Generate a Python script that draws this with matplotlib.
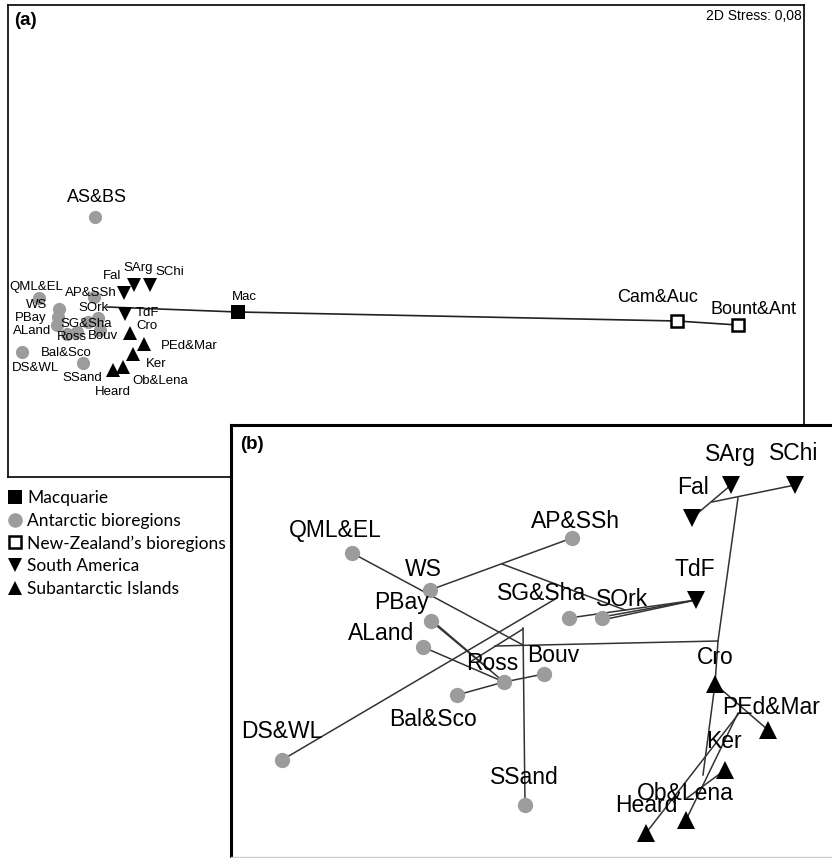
import matplotlib.pyplot as plt
from matplotlib.lines import Line2D

plt.rcParams['font.family'] = ['Liberation Sans', 'DejaVu Sans']

# -----------------------------
# Data: MDS (a) all bioregions
# -----------------------------
names_a = ["AS&BS", "QML&EL", "AP&SSh", "WS", "PBay", "ALand", "SG&Sha", "SOrk",
           "Ross", "Bouv", "Bal&Sco", "DS&WL", "SSand",
           "Fal", "SArg", "SChi", "TdF",
           "Cro", "PEd&Mar", "Ker", "Ob&Lena", "Heard",
           "Mac", "Cam&Auc", "Bount&Ant"]
x_a = [-1.45, -2.01, -1.46, -1.81, -1.82, -1.83, -1.52, -1.42,
       -1.63, -1.40, -1.73, -2.18, -1.57,
       -1.16, -1.06, -0.90, -1.15,
       -1.10, -0.96, -1.07, -1.17, -1.27,
       -0.02, 4.37, 4.98]
y_a = [1.03, 0.22, 0.23, 0.11, 0.03, -0.05, -0.02, 0.02,
       -0.12, -0.10, -0.14, -0.32, -0.43,
       0.27, 0.35, 0.35, 0.06,
       -0.13, -0.24, -0.34, -0.47, -0.50,
       0.08, -0.01, -0.05]
group_a = ["ant"] * 13 + ["sam"] * 4 + ["sub"] * 5 + ["mac", "nz", "nz"]

# spanning line of panel (a)
line_a_x = [-1.33, -0.02, 4.37, 4.98]
line_a_y = [0.13, 0.08, -0.01, -0.05]

# -----------------------------
# Data: MDS (b) without New Zealand / Macquarie
# -----------------------------
names_b = ["QML&EL", "WS", "PBay", "ALand", "Ross", "Bouv", "Bal&Sco", "SG&Sha",
           "SOrk", "AP&SSh", "DS&WL", "SSand",
           "Fal", "SArg", "SChi", "TdF",
           "Cro", "PEd&Mar", "Ker", "Ob&Lena", "Heard"]
x_b = [-1.78, -1.00, -0.99, -1.07, -0.26, 0.14, -0.73, 0.39,
       0.72, 0.42, -2.48, -0.05,
       1.62, 2.01, 2.65, 1.66,
       1.85, 2.38, 1.95, 1.56, 1.16]
y_b = [0.87, 0.50, 0.19, -0.07, -0.42, -0.34, -0.55, 0.22,
       0.22, 1.02, -1.20, -1.65,
       1.22, 1.55, 1.55, 0.40,
       -0.44, -0.90, -1.30, -1.80, -1.93]
group_b = ["ant"] * 12 + ["sam"] * 4 + ["sub"] * 5

# tree segments of panel (b): list of polylines (x list, y list)
tree_b = [
    ([-1.78, -0.07], [0.87, -0.05]),
    ([-1.00, 0.42], [0.50, 1.02]),
    ([-0.28, 0.95], [0.76, 0.30]),
    ([0.39, 1.66], [0.22, 0.40]),
    ([0.72, 1.66], [0.20, 0.40]),
    ([0.72, 1.66], [0.23, 0.40]),
    ([-0.07, -0.05], [0.12, -1.65]),
    ([-0.35, 1.88], [-0.06, -0.01]),
    ([2.08, 1.88, 1.85, 1.73], [1.42, -0.01, -0.44, -1.35]),
    ([1.62, 2.01], [1.22, 1.55]),
    ([1.82, 2.65], [1.38, 1.55]),
    ([-2.48, 0.27], [-1.20, 0.42]),
    ([-0.60, -0.07], [-0.22, 0.11]),
    ([-0.99, -0.26], [0.19, -0.42]),
    ([-0.95, -0.40], [0.17, -0.30]),
    ([-1.07, -0.26], [-0.07, -0.42]),
    ([-0.73, -0.26, 0.14], [-0.55, -0.42, -0.34]),
    ([1.85, 2.38], [-0.44, -0.90]),
    ([2.10, 1.16], [-0.72, -1.93]),
    ([2.08, 1.56], [-0.73, -1.80]),
    ([1.95, 1.57], [-1.30, -1.58]),
]

legend_labels = ["Macquarie", "Antarctic bioregions", "New-Zealand\u2019s bioregions",
                 "South America", "Subantarctic Islands"]

# -----------------------------
# Styles
# -----------------------------
GREY = "#9c9c9c"
STYLE = {
    "mac": dict(marker="s", mfc="black", mec="black", mew=0),
    "ant": dict(marker="o", mfc=GREY, mec=GREY, mew=0),
    "nz": dict(marker="s", mfc="white", mec="black", mew=1.8),
    "sam": dict(marker="v", mfc="black", mec="black", mew=0),
    "sub": dict(marker="^", mfc="black", mec="black", mew=0),
}

# label offsets in pixels (dx, dy)
off_a = {"AS&BS": (2, 19), "QML&EL": (-3, 11), "AP&SSh": (-3, 4), "WS": (-22, 4),
         "PBay": (-27, -1), "ALand": (-25, -6), "SG&Sha": (-2, -2), "SOrk": (-5, 10),
         "Ross": (-5, -5), "Bouv": (3, -6), "Bal&Sco": (-1, -19), "DS&WL": (14, -16),
         "SSand": (-1, -15), "Fal": (-12, 17), "SArg": (4, 17), "SChi": (20, 13),
         "TdF": (22, 1), "Cro": (17, 7), "PEd&Mar": (45, -2), "Ker": (23, -10),
         "Ob&Lena": (37, -14), "Heard": (0, -22), "Mac": (6, 15),
         "Cam&Auc": (-19, 24), "Bount&Ant": (15, 16)}
big_a = {"AS&BS", "Cam&Auc", "Bount&Ant"}

off_b = {"QML&EL": (-17, 22), "WS": (-7, 20), "PBay": (-29, 18), "ALand": (-42, 14),
         "Ross": (-12, 19), "Bouv": (9, 19), "Bal&Sco": (-24, -25), "SG&Sha": (-27, 25),
         "SOrk": (20, 19), "AP&SSh": (3, 16), "DS&WL": (0, 29), "SSand": (-1, 28),
         "Fal": (1, 30), "SArg": (-1, 31), "SChi": (-1, 31), "TdF": (-1, 30),
         "Cro": (0, 27), "PEd&Mar": (3, 23), "Ker": (-1, 28), "Ob&Lena": (-1, 27),
         "Heard": (0, 28)}

W, H = 832, 858
fig = plt.figure(figsize=(W / 100, H / 100), dpi=100)

# -----------------------------
# Panel (a)
# -----------------------------
ax_a = fig.add_axes([8 / W, (H - 477) / H, (804 - 8) / W, (477 - 5) / H])
ax_a.set_xlim(-2.32, 5.64)
ax_a.set_ylim(-1.57, 3.15)
ax_a.set_xticks([])
ax_a.set_yticks([])
for sp in ax_a.spines.values():
    sp.set_linewidth(1.2)

ax_a.plot(line_a_x, line_a_y, color="#222222", lw=1.2, zorder=2)
for name, x, y, g in zip(names_a, x_a, y_a, group_a):
    ms = 8.5 if g == "nz" else 9.5
    ax_a.plot(x, y, ls="none", ms=ms, zorder=3, **STYLE[g])
    ax_a.annotate(name, (x, y), xytext=off_a[name], textcoords="offset pixels",
                  ha="center", va="center", fontsize=13 if name in big_a else 9.5,
                  zorder=4)

ax_a.annotate("(a)", (0, 1), xycoords="axes fraction", xytext=(6, -7),
              textcoords="offset pixels", ha="left", va="top",
              fontsize=13.5, fontweight="bold")
ax_a.annotate("2D Stress: 0,08", (1, 1), xycoords="axes fraction", xytext=(-2, -4),
              textcoords="offset pixels", ha="right", va="top", fontsize=10)

# -----------------------------
# Panel (b)
# -----------------------------
ax_b = fig.add_axes([231 / W, 1 / H, (W - 231) / W, (857 - 425) / H], zorder=5)
ax_b.set_facecolor("white")
ax_b.set_xlim(-2.99, 3.02)
ax_b.set_ylim(-2.17, 2.15)
ax_b.set_xticks([])
ax_b.set_yticks([])
ax_b.spines["left"].set_linewidth(2.2)
ax_b.spines["top"].set_linewidth(2.2)
ax_b.spines["right"].set_visible(False)
ax_b.spines["bottom"].set_color("#cccccc")
ax_b.spines["bottom"].set_linewidth(1.0)

for xs, ys in tree_b:
    ax_b.plot(xs, ys, color="#333333", lw=1.1, zorder=2)
for name, x, y, g in zip(names_b, x_b, y_b, group_b):
    ms = 11 if g == "ant" else 13
    ax_b.plot(x, y, ls="none", ms=ms, zorder=3, **STYLE[g])
    ax_b.annotate(name, (x, y), xytext=off_b[name], textcoords="offset pixels",
                  ha="center", va="center", fontsize=16.5, zorder=4)

ax_b.annotate("(b)", (0, 1), xycoords="axes fraction", xytext=(9, -11),
              textcoords="offset pixels", ha="left", va="top",
              fontsize=13.5, fontweight="bold")

# -----------------------------
# Legend
# -----------------------------
handles = []
for g in ["mac", "ant", "nz", "sam", "sub"]:
    ms = 9 if g == "nz" else 10.5
    handles.append(Line2D([], [], ls="none", ms=ms, **STYLE[g]))
fig.legend(handles, legend_labels, loc="upper left",
           bbox_to_anchor=(7 / W, 1 - 490 / H), frameon=False,
           handlelength=0.9, handletextpad=0.25, labelspacing=0.38,
           borderpad=0, borderaxespad=0,
           prop={"family": "Lato", "size": 12.5})

fig.savefig("out.png", dpi=100)
